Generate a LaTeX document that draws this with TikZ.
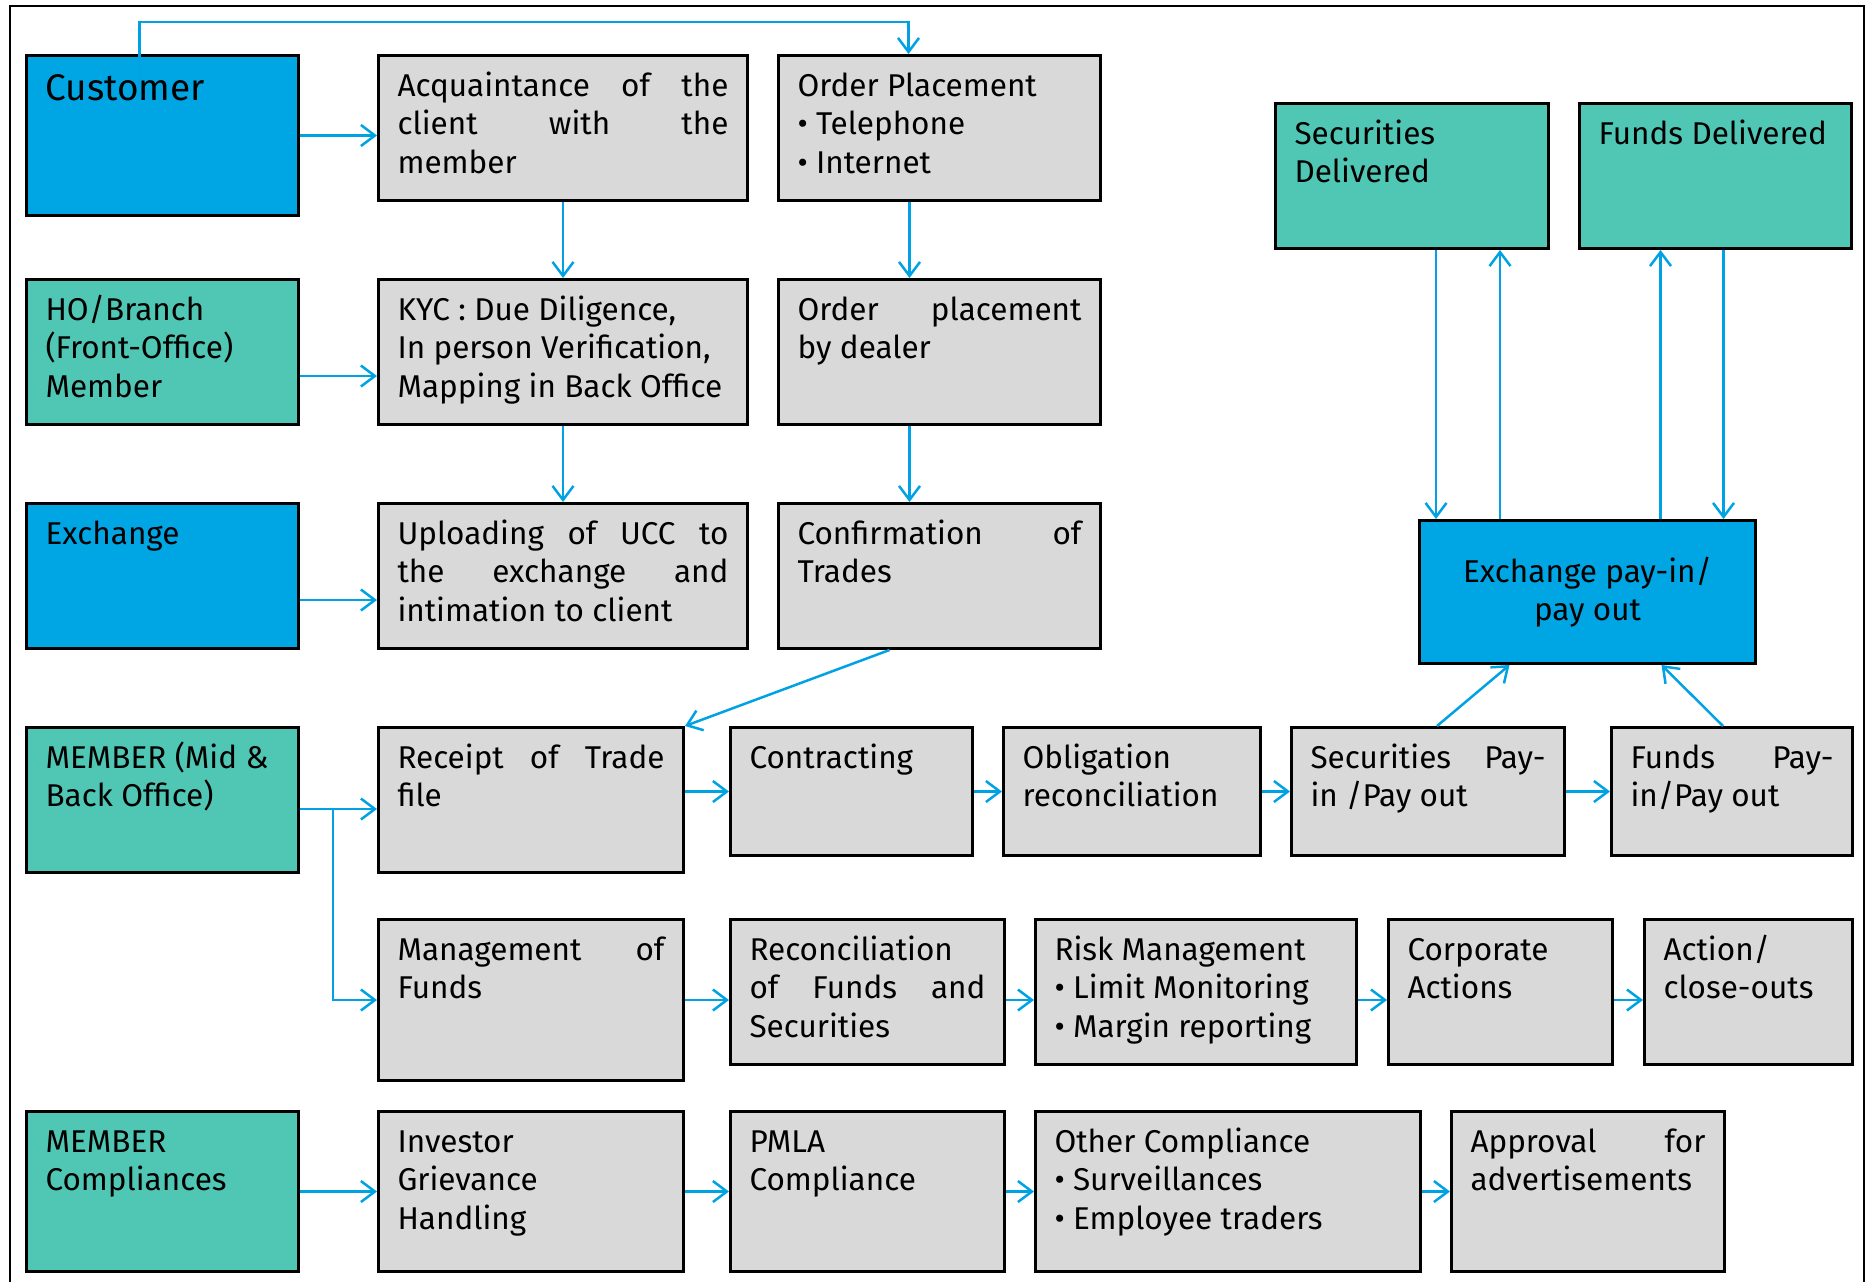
\documentclass[tikz,border=0pt]{standalone}
\usepackage{fontspec}
\setmainfont{Fira Sans}
\usetikzlibrary{arrows.meta}

\definecolor{custblue}{RGB}{0,166,228}
\definecolor{memteal}{RGB}{80,199,180}
\definecolor{stepgrey}{RGB}{217,217,217}
\definecolor{linkblue}{RGB}{0,162,228}

% text set at the top left of a box of #1 x #2
\newcommand{\cell}[3]{\parbox[c][\dimexpr#2pt-28pt\relax][t]{\dimexpr#1pt-38pt\relax}{\strut#3}}

\tikzset{
  box/.style={draw=black, line width=3pt, anchor=north west, inner xsep=19pt, inner ysep=14pt,
    font=\fontsize{31.5}{38.5}\selectfont},
  greybox/.style={box, fill=stepgrey},
  tealbox/.style={box, fill=memteal},
  bluebox/.style={box, fill=custblue},
  flow/.style={color=linkblue, line width=2.5pt, -{Straight Barb[length=14pt,width=21pt]}},
}

\begin{document}
\begin{tikzpicture}[x=1pt, y=-1pt]
	\useasboundingbox (0,0) rectangle (1866,1282);
	\draw[line width=2.5pt] (10,1290) -- (10,6) -- (1864,6) -- (1864,1290);
	
	% participants
	\node[bluebox, font=\fontsize{37}{44}\selectfont] (cust) at (25, 54)   {\cell{272}{160}{Customer}};
	\node[tealbox] (ho)   at (25, 278)  {\cell{272}{145}{HO/Branch\\(Front-Office)\\Member}};
	\node[bluebox] (exch) at (25, 502)  {\cell{272}{145}{Exchange}};
	\node[tealbox] (mid)  at (25, 726)  {\cell{272}{145}{MEMBER (Mid \&\\Back Office)}};
	\node[tealbox] (comp) at (25, 1110) {\cell{272}{160}{MEMBER\\Compliances}};
	
	% client side
	\node[greybox] (acq)    at (377, 54)  {\cell{369}{145}{Acquaintance\hfill of\hfill the\\client\hfill with\hfill the\\member}};
	\node[greybox] (kyc)    at (377, 278) {\cell{369}{145}{KYC : Due Diligence,\\In person Verification,\\Mapping in Back Office}};
	\node[greybox] (upl)    at (377, 502) {\cell{369}{145}{Uploading\hfill of\hfill UCC\hfill to\\the\hfill exchange\hfill and\\intimation to client}};
	\node[greybox] (ordp)   at (777, 54)  {\cell{322}{145}{Order Placement\\• Telephone\\• Internet}};
	\node[greybox] (dealer) at (777, 278) {\cell{322}{145}{Order\hfill placement\\by dealer}};
	\node[greybox] (conf)   at (777, 502) {\cell{322}{145}{Confirmation\hfill of\\Trades}};
	
	% back office
	\node[greybox] (recpt)   at (377, 726)  {\cell{305}{145}{Receipt\hfill of\hfill Trade\\file}};
	\node[greybox] (contr)   at (729, 726)  {\cell{242}{128}{Contracting}};
	\node[greybox] (oblig)   at (1002, 726) {\cell{257}{128}{Obligation\\reconciliation}};
	\node[greybox] (secpay)  at (1290, 726) {\cell{273}{128}{Securities\hfill Pay-\\in /Pay out}};
	\node[greybox] (fundpay) at (1610, 726) {\cell{241}{128}{Funds\hfill Pay-\\in/Pay out}};
	
	\node[greybox] (mgmt)  at (377, 918)  {\cell{305}{161}{Management\hfill of\\Funds}};
	\node[greybox] (recon) at (729, 918)  {\cell{274}{145}{Reconciliation\\of\hfill Funds\hfill and\\Securities}};
	\node[greybox] (risk)  at (1034, 918) {\cell{321}{145}{Risk Management\\• Limit Monitoring\\• Margin reporting}};
	\node[greybox] (corp)  at (1387, 918) {\cell{224}{145}{Corporate\\Actions}};
	\node[greybox] (act)   at (1643, 918) {\cell{208}{145}{Action/\\close-outs}};
	
	\node[greybox] (invg) at (377, 1110)  {\cell{305}{160}{Investor\\Grievance\\Handling}};
	\node[greybox] (pmla) at (729, 1110)  {\cell{274}{160}{PMLA\\Compliance}};
	\node[greybox] (othc) at (1034, 1110) {\cell{385}{160}{Other Compliance\\• Surveillances\\• Employee traders}};
	\node[greybox] (appr) at (1450, 1110) {\cell{273}{160}{Approval\hfill for\\advertisements}};
	
	% settlement
	\node[tealbox] (secdel) at (1274, 102) {\cell{273}{145}{Securities\\Delivered}};
	\node[tealbox] (fundel) at (1578, 102) {\cell{272}{145}{Funds Delivered}};
	\node[bluebox, inner sep=0pt, minimum width=336pt, minimum height=143pt, align=center] (xpay) at (1418, 519) {Exchange pay-in/\\pay out};
	
	\draw[flow] ([xshift=-23pt,yshift=-43pt]cust.north) -- ++(0,-75) -| ([xshift=-31pt]ordp.north);
	\path[flow] (cust.east) edge (cust.east -| acq.west);
	\path[flow] ([yshift=-24pt]ho.east) edge ([yshift=-24pt]kyc.west);
	\path[flow] ([yshift=-24pt]exch.east) edge ([yshift=-24pt]upl.west);
	\path[flow] (acq) edge (kyc);
	\path[flow] (kyc) edge (upl);
	\path[flow] ([xshift=-30pt]ordp.south) edge ([xshift=-30pt]dealer.north);
	\path[flow] ([xshift=-30pt]dealer.south) edge ([xshift=-30pt]conf.north);
	\path[flow] ([xshift=-50pt]conf.south) edge (recpt.north east);
	
	\path[flow] ([yshift=-9pt]mid.east) edge ([yshift=-9pt]recpt.west);
	\draw[flow] ([yshift=-9pt]mid.east) ++(33,0) |- (mgmt.west);
	\path[flow] (recpt.east |- contr.west) edge (contr.west);
	\path[flow] (contr) edge (oblig);
	\path[flow] (oblig) edge (secpay);
	\path[flow] (secpay) edge (fundpay);
	
	\path[flow] (mgmt.east) edge (mgmt.east -| recon.west);
	\path[flow] (mgmt.east -| recon.east) edge (mgmt.east -| risk.west);
	\path[flow] (mgmt.east -| risk.east) edge (mgmt.east -| corp.west);
	\path[flow] (mgmt.east -| corp.east) edge (mgmt.east -| act.west);
	
	\path[flow] (comp) edge (invg);
	\path[flow] (invg) edge (pmla);
	\path[flow] (pmla) edge (othc);
	\path[flow] (othc) edge (appr);
	
	\path[flow] ([xshift=9pt]secpay.north) edge ([xshift=-78pt]xpay.south);
	\path[flow] ([xshift=-9pt]fundpay.north) edge ([xshift=74pt]xpay.south);
	\path[flow] ([xshift=24pt]secdel.south) edge ([xshift=24pt]secdel.south |- xpay.north);
	\path[flow] ([xshift=88pt]secdel.south |- xpay.north) edge ([xshift=88pt]secdel.south);
	\path[flow] ([xshift=-55pt]fundel.south |- xpay.north) edge ([xshift=-55pt]fundel.south);
	\path[flow] ([xshift=8pt]fundel.south) edge ([xshift=8pt]fundel.south |- xpay.north);
	
\end{tikzpicture}
\end{document}
